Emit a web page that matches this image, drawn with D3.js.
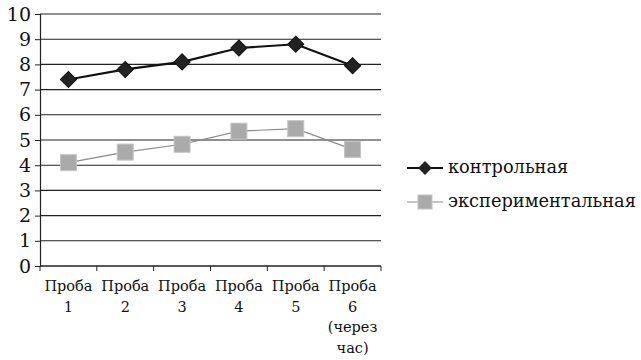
<!DOCTYPE html>
<html><head><meta charset="utf-8">
<script src="https://cdn.jsdelivr.net/npm/d3@7"></script>
<style>body{margin:0;background:#fff}svg{display:block}</style>
</head><body>
<svg id="c" width="641" height="360"></svg>
<script>
const categories = [["Проба","1"],["Проба","2"],["Проба","3"],["Проба","4"],["Проба","5"],["Проба","6","(через","час)"]];
const seriesNames = ["контрольная","экспериментальная"];
const control = [7.4, 7.8, 8.1, 8.65, 8.8, 7.95];
const experimental = [4.1, 4.52, 4.83, 5.35, 5.45, 4.63];
const yTicks = [0,1,2,3,4,5,6,7,8,9,10];

(function(){
const svg = d3.select("#c");
const font = "'DejaVu Serif'";
const mLeft = 40, mRight = 381, mTop = 14, mBottom = 266;
const x = d3.scaleBand().domain(d3.range(categories.length)).range([mLeft, mRight]);
const y = d3.scaleLinear().domain([0,10]).range([mBottom, mTop]);

svg.append("g").selectAll("line").data(yTicks.filter(d=>d>0)).join("line")
  .attr("x1", mLeft).attr("x2", mRight)
  .attr("y1", d=>y(d)).attr("y2", d=>y(d))
  .attr("stroke", "#222").attr("stroke-width", 1.1);

const ya = svg.append("g").attr("transform", `translate(${mLeft},0)`)
  .call(d3.axisLeft(y).tickValues(yTicks).tickSize(5).tickPadding(4).tickFormat(d3.format("d")));
ya.select(".domain").attr("stroke", "#222").attr("stroke-width", 1.2);
ya.selectAll(".tick line").attr("stroke", "#222");
ya.selectAll("text").style("font-family", font).attr("font-size", 19).attr("fill", "#111");

const xa = svg.append("g").attr("transform", `translate(0,${mBottom})`);
xa.append("line").attr("x1", mLeft).attr("x2", mRight).attr("stroke", "#222").attr("stroke-width", 1.3);
xa.selectAll(".tk").data(d3.range(categories.length + 1)).join("line")
  .attr("x1", i => i < categories.length ? x(i) : mRight)
  .attr("x2", i => i < categories.length ? x(i) : mRight)
  .attr("y1", 0).attr("y2", 5).attr("stroke", "#222");
categories.forEach((lines, i) => {
  const t = xa.append("text").attr("text-anchor", "middle")
    .style("font-family", font).attr("font-size", 14.5).attr("fill", "#111");
  lines.forEach((s, j) => t.append("tspan").attr("x", x(i) + x.bandwidth()/2)
    .attr("y", 25 + j * 20.5).text(s));
});

const cx = i => x(i) + x.bandwidth()/2;
const line = d3.line().x((d,i)=>cx(i)).y(d=>y(d));

svg.append("path").datum(experimental).attr("d", line)
  .attr("fill", "none").attr("stroke", "#8a8a8a").attr("stroke-width", 1.2);
svg.append("path").datum(control).attr("d", line)
  .attr("fill", "none").attr("stroke", "#111").attr("stroke-width", 2.2);

svg.append("g").selectAll("path").data(control).join("path")
  .attr("d", d3.symbol().type(d3.symbolSquare).size(130)())
  .attr("transform", (d,i)=>`translate(${cx(i)},${y(d)}) rotate(45)`)
  .attr("fill", "#222").attr("stroke", "#111").attr("stroke-width", 1);

svg.append("g").selectAll("rect").data(experimental).join("rect")
  .attr("x", (d,i)=>cx(i)-8).attr("y", d=>y(d)-8)
  .attr("width", 16).attr("height", 16)
  .attr("fill", "#aaaaaa").attr("stroke", "#c4c4c4").attr("stroke-width", 1);

const lg = svg.append("g");
const rows = [168, 202];
lg.append("line").attr("x1", 407).attr("x2", 443).attr("y1", rows[0]).attr("y2", rows[0])
  .attr("stroke", "#111").attr("stroke-width", 2.2);
lg.append("path").attr("d", d3.symbol().type(d3.symbolSquare).size(95)())
  .attr("transform", `translate(425,${rows[0]}) rotate(45)`).attr("fill", "#222");
lg.append("line").attr("x1", 407).attr("x2", 443).attr("y1", rows[1]).attr("y2", rows[1])
  .attr("stroke", "#8a8a8a").attr("stroke-width", 1.2);
lg.append("rect").attr("x", 418).attr("y", rows[1]-7).attr("width", 14).attr("height", 14)
  .attr("fill", "#aaaaaa").attr("stroke", "#c4c4c4");
seriesNames.forEach((n, i) => lg.append("text").attr("x", 448).attr("y", rows[i] + 5)
  .style("font-family", font).attr("font-size", 17.8).attr("fill", "#111").text(n));
})();
</script>
</body></html>
